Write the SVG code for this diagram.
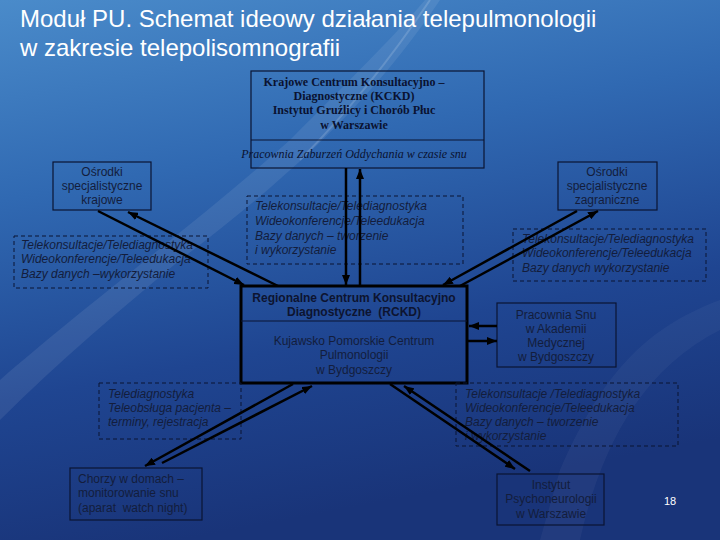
<svg xmlns="http://www.w3.org/2000/svg" width="720" height="540" viewBox="0 0 720 540">
<defs>
<linearGradient id="bg" x1="0" y1="0" x2="0.25" y2="1">
<stop offset="0" stop-color="#4a8bca"/>
<stop offset="0.35" stop-color="#3069b2"/>
<stop offset="0.7" stop-color="#1f4591"/>
<stop offset="1" stop-color="#193479"/>
</linearGradient>
<marker id="ah" markerUnits="userSpaceOnUse" markerWidth="10" markerHeight="8" refX="10" refY="4" orient="auto">
<path d="M0,0 L10,4 L0,8 z" fill="#000"/>
</marker>
<style>
.box{fill:none;stroke:#0a1433;stroke-width:1.2}
.dash{fill:none;stroke:#0a1433;stroke-width:1;stroke-dasharray:4,3}
.t{font-family:"Liberation Sans",Arial,sans-serif;font-size:12px;fill:#131d3c}
.tc{text-anchor:middle}
.ti{font-family:"Liberation Sans",Arial,sans-serif;font-size:12px;font-style:italic;fill:#131d3c}
.tb{font-family:"Liberation Sans",Arial,sans-serif;font-size:12px;font-weight:bold;fill:#0d1430;text-anchor:middle}
.ts{font-family:"Liberation Serif","Times New Roman",serif;font-size:12px;font-weight:bold;fill:#0a1230;text-anchor:middle}
.tsi{font-family:"Liberation Serif","Times New Roman",serif;font-size:12px;font-style:italic;fill:#0a1230;text-anchor:middle}
.title{font-family:"Liberation Sans",Arial,sans-serif;font-size:24px;fill:#ffffff}
.conn line{stroke:#000;stroke-width:2.5;marker-end:url(#ah)}
</style>
</defs>
<rect x="0" y="0" width="720" height="540" fill="url(#bg)"/>
<path d="M440,0 C380,90 300,170 180,260 C120,310 60,360 0,420 L0,380 C80,310 200,220 290,140 C350,80 400,30 425,0 Z" fill="#ffffff" opacity="0.08"/>
<path d="M430,0 C390,60 350,110 300,160" stroke="#ffffff" stroke-width="2" fill="none" opacity="0.15"/>
<path d="M720,300 C640,330 600,380 560,470 L540,540 L580,540 C600,450 640,370 720,330 Z" fill="#ffffff" opacity="0.04"/>

<text class="title" x="20" y="27">Moduł PU. Schemat ideowy działania telepulmonologii</text>
<text class="title" x="20" y="56">w zakresie telepolisomnografii</text>

<g id="kckd">
<rect class="box" x="251" y="71" width="233" height="97"/>
<line x1="251" y1="140" x2="484" y2="140" stroke="#0a1433" stroke-width="1.2"/>
<text class="ts" x="354" y="86">Krajowe Centrum Konsultacyjno –</text>
<text class="ts" x="354" y="100">Diagnostyczne (KCKD)</text>
<text class="ts" x="354" y="114">Instytut Gruźlicy i Chorób Płuc</text>
<text class="ts" x="354" y="129">w Warszawie</text>
<text class="tsi" x="354" y="158">Pracownia Zaburzeń Oddychania w czasie snu</text>
</g>

<g id="osrodki-krajowe">
<rect class="box" x="53" y="162" width="98" height="48"/>
<text class="t tc" x="102" y="176">Ośrodki</text>
<text class="t tc" x="102" y="190">specjalistyczne</text>
<text class="t tc" x="102" y="204">krajowe</text>
</g>

<g id="dash-left">
<rect class="dash" x="14" y="236" width="194" height="52"/>
<text class="ti" x="21" y="249">Telekonsultacje/Telediagnostyka</text>
<text class="ti" x="21" y="263">Wideokonferencje/Teleedukacja</text>
<text class="ti" x="21" y="278">Bazy danych –wykorzystanie</text>
</g>

<g id="dash-middle">
<rect class="dash" x="247" y="196" width="216" height="68"/>
<text class="ti" x="255" y="210">Telekonsultacje/Telediagnostyka</text>
<text class="ti" x="255" y="225">Wideokonferencje/Teleedukacja</text>
<text class="ti" x="255" y="240">Bazy danych – tworzenie</text>
<text class="ti" x="255" y="254">i wykorzystanie</text>
</g>

<g id="osrodki-zagraniczne">
<rect class="box" x="558" y="162" width="99" height="48"/>
<text class="t tc" x="607" y="176">Ośrodki</text>
<text class="t tc" x="607" y="190">specjalistyczne</text>
<text class="t tc" x="607" y="204">zagraniczne</text>
</g>

<g id="dash-right">
<rect class="dash" x="513" y="229" width="193" height="52"/>
<text class="ti" x="522" y="243">Telekonsultacje/Telediagnostyka</text>
<text class="ti" x="522" y="257">Wideokonferencje/Teleedukacja</text>
<text class="ti" x="522" y="272">Bazy danych wykorzystanie</text>
</g>

<g id="rckd">
<rect x="241" y="286" width="226" height="97" fill="none" stroke="#000" stroke-width="3"/>
<line x1="241" y1="321" x2="467" y2="321" stroke="#0a1433" stroke-width="1"/>
<text class="tb" x="354" y="302">Regionalne Centrum Konsultacyjno</text>
<text class="tb" x="354" y="316" xml:space="preserve">Diagnostyczne  (RCKD)</text>
<text class="t tc" x="354" y="345">Kujawsko Pomorskie Centrum</text>
<text class="t tc" x="354" y="359">Pulmonologii</text>
<text class="t tc" x="354" y="374">w Bydgoszczy</text>
</g>

<g id="pracownia-snu">
<rect class="box" x="497" y="303" width="119" height="64"/>
<text class="t tc" x="556" y="319">Pracownia Snu</text>
<text class="t tc" x="556" y="333">w Akademii</text>
<text class="t tc" x="556" y="347">Medycznej</text>
<text class="t tc" x="556" y="361">w Bydgoszczy</text>
</g>

<g id="dash-bottom-left">
<rect class="dash" x="99" y="383" width="142" height="56"/>
<text class="ti" x="108" y="398">Telediagnostyka</text>
<text class="ti" x="108" y="412">Teleobsługa pacjenta –</text>
<text class="ti" x="108" y="426">terminy, rejestracja</text>
</g>

<g id="chorzy">
<rect class="box" x="70" y="468" width="132" height="52"/>
<text class="t" x="78" y="483">Chorzy w domach –</text>
<text class="t" x="78" y="497">monitorowanie snu</text>
<text class="t" x="78" y="512" xml:space="preserve">(aparat  watch night)</text>
</g>

<g id="dash-bottom-right">
<rect class="dash" x="456" y="383" width="222" height="63"/>
<text class="ti" x="465" y="398">Telekonsultacje /Telediagnostyka</text>
<text class="ti" x="465" y="412">Wideokonferencje/Teleedukacja</text>
<text class="ti" x="465" y="426">Bazy danych – tworzenie</text>
<text class="ti" x="465" y="440">i wykorzystanie</text>
</g>

<g id="instytut">
<rect class="box" x="497" y="474" width="107" height="51"/>
<text class="t tc" x="551" y="489">Instytut</text>
<text class="t tc" x="551" y="503">Psychoneurologii</text>
<text class="t tc" x="551" y="518">w Warszawie</text>
</g>

<g id="connectors" class="conn">
<line x1="346" y1="168" x2="346" y2="285"/>
<line x1="360" y1="286" x2="360" y2="169"/>
<line x1="98" y1="211" x2="244" y2="285"/>
<line x1="278" y1="286" x2="128" y2="212"/>
<line x1="577" y1="211" x2="443" y2="285"/>
<line x1="460" y1="286" x2="598" y2="211"/>
<line x1="497" y1="326" x2="469" y2="326"/>
<line x1="468" y1="341" x2="497" y2="341"/>
<line x1="293" y1="384" x2="145" y2="466"/>
<line x1="162" y1="463" x2="312" y2="386"/>
<line x1="390" y1="384" x2="515" y2="469"/>
<line x1="530" y1="471" x2="404" y2="386"/>
</g>

<text x="670" y="505" font-family="Liberation Sans, Arial, sans-serif" font-size="11" fill="#ffffff" text-anchor="middle">18</text>
</svg>
